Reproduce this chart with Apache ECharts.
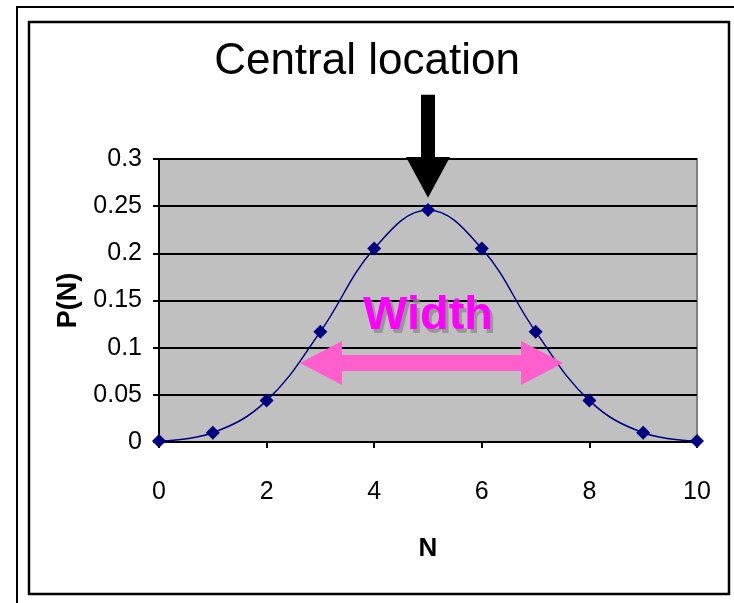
<!DOCTYPE html>
<html>
<head>
<meta charset="utf-8">
<script src="https://cdn.jsdelivr.net/npm/echarts@6/dist/echarts.min.js"></script>
<style>
html,body{margin:0;padding:0;background:#fff;}
#chart{width:734px;height:603px;}
</style>
</head>
<body>
<div id="chart"></div>
<script>
// Data
const nValues = [0, 1, 2, 3, 4, 5, 6, 7, 8, 9, 10];
const pValues = [0.001, 0.0098, 0.0439, 0.117, 0.205, 0.246, 0.205, 0.117, 0.0439, 0.0098, 0.001];
const xTicks = [0, 2, 4, 6, 8, 10];
const yTicks = [0, 0.05, 0.1, 0.15, 0.2, 0.25, 0.3];
const titleText = 'Central location';
const xName = 'N';
const yName = 'P(N)';
const widthLabel = 'Width';

const chart = echarts.init(document.getElementById('chart'));
const FONT = '"Liberation Sans", Arial, sans-serif';

const option = {
  animation: false,
  backgroundColor: '#ffffff',
  title: {
    text: titleText,
    left: 'center',
    top: 35,
    textStyle: {fontFamily: FONT, fontSize: 44, fontWeight: 'normal', color: '#000'}
  },
  grid: {left: 159, right: 37, top: 159, bottom: 161, show: true,
    backgroundColor: '#c0c0c0', borderColor: '#808080', borderWidth: 2},
  xAxis: {
    type: 'value', min: 0, max: 10, interval: 2,
    name: xName, nameLocation: 'middle', nameGap: 94,
    nameTextStyle: {fontFamily: FONT, fontSize: 26, fontWeight: 'bold', color: '#000'},
    axisLine: {show: true, lineStyle: {color: '#000', width: 2}},
    axisTick: {show: true, length: 6, lineStyle: {color: '#000', width: 2}},
    axisLabel: {margin: 38, fontFamily: FONT, fontSize: 25, color: '#000'},
    splitLine: {show: false}
  },
  yAxis: {
    type: 'value', min: 0, max: 0.3, interval: 0.05,
    name: yName, nameLocation: 'middle', nameGap: 72,
    nameTextStyle: {fontFamily: FONT, fontSize: 27, fontWeight: 'bold', color: '#000'},
    axisLine: {show: true, lineStyle: {color: '#000', width: 2}},
    axisTick: {show: true, length: 6, lineStyle: {color: '#000', width: 2}},
    axisLabel: {margin: 17, fontFamily: FONT, fontSize: 25, color: '#000',
      formatter: v => String(parseFloat(v.toFixed(2)))},
    splitLine: {show: true, lineStyle: {color: '#000', width: 2}}
  },
  series: [{
    type: 'line',
    data: nValues.map((n, i) => [n, pValues[i]]),
    smooth: 0.4,
    symbol: 'diamond',
    symbolSize: 14,
    lineStyle: {color: '#000080', width: 1.5},
    itemStyle: {color: '#000080'},
    z: 5
  }]
};
chart.setOption(option);

function px(x, y) { return chart.convertToPixel({gridIndex: 0}, [x, y]); }

// Annotation graphics positioned through the chart's scales
const tip = px(5, 0.259);
const headBase = px(5, 0.302);
const shaftTop = px(5, 0.368);
const lt = px(2.62, 0.0837);
const rt = px(7.51, 0.0837);
const wl = px(5, 0.134);
const H = 42, HH = 22, SH = 8;

chart.setOption({
  graphic: [
    {type: 'rect', shape: {x: 17, y: 7, width: 740, height: 620}, style: {fill: 'none', stroke: '#000', lineWidth: 2}, silent: true},
    {type: 'rect', shape: {x: 29, y: 22, width: 700, height: 572}, style: {fill: 'none', stroke: '#000', lineWidth: 2.5}, silent: true},
    {type: 'polygon', z: 100, shape: {points: [
      [tip[0] - 7, shaftTop[1]], [tip[0] + 7, shaftTop[1]], [tip[0] + 7, headBase[1]],
      [tip[0] + 22, headBase[1]], [tip[0], tip[1]], [tip[0] - 22, headBase[1]], [tip[0] - 7, headBase[1]]
    ]}, style: {fill: '#000'}},
    {type: 'polygon', z: 100, shape: {points: [
      [lt[0], lt[1]], [lt[0] + H, lt[1] - HH], [lt[0] + H, lt[1] - SH], [rt[0] - H, rt[1] - SH],
      [rt[0] - H, rt[1] - HH], [rt[0], rt[1]], [rt[0] - H, rt[1] + HH], [rt[0] - H, rt[1] + SH],
      [lt[0] + H, lt[1] + SH], [lt[0] + H, lt[1] + HH]
    ]}, style: {fill: '#ff5fcc'}},
    {type: 'text', z: 100, x: wl[0] + 3, y: wl[1] + 4, style: {text: widthLabel, fill: '#8c8c8c', opacity: 0.8,
      font: 'bold 47px "Liberation Sans", Arial, sans-serif', textAlign: 'center', textVerticalAlign: 'middle'}},
    {type: 'text', z: 101, x: wl[0], y: wl[1], style: {text: widthLabel, fill: '#ff00ff',
      font: 'bold 47px "Liberation Sans", Arial, sans-serif', textAlign: 'center', textVerticalAlign: 'middle'}}
  ]
});
</script>
</body>
</html>
